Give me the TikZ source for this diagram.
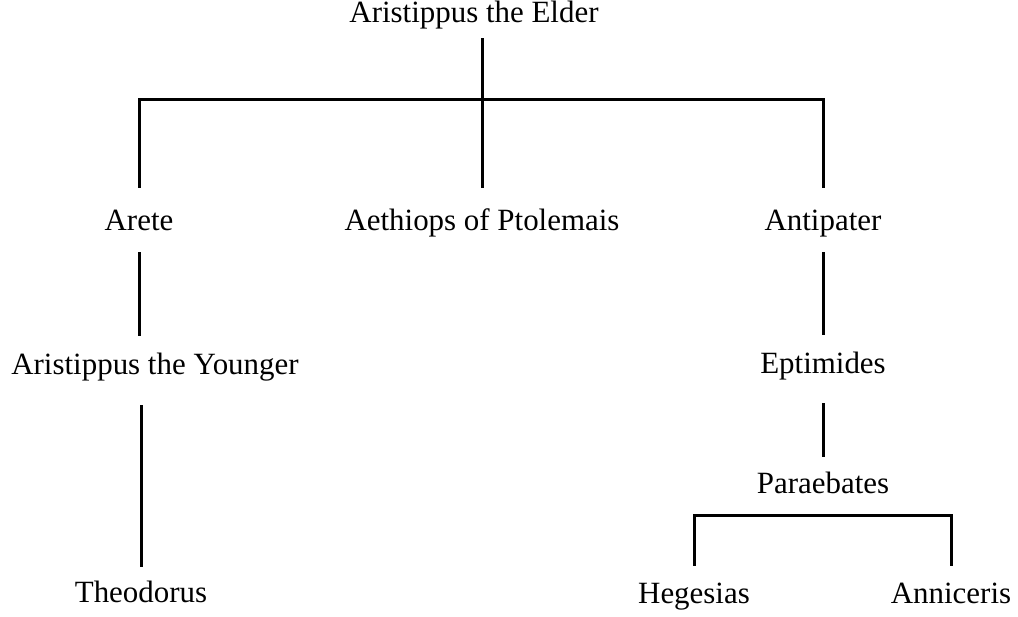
\documentclass[tikz,border=0pt]{standalone}
\usepackage{fontspec}
\setmainfont{Liberation Serif}
\newfontfamily\treefont{Liberation Serif}
\usepackage{tikz}
\usetikzlibrary{positioning,calc}

\begin{document}
\begin{tikzpicture}[x=0.75pt, y=-0.75pt,
    person/.style={inner sep=0pt, anchor=base, font=\treefont\fontsize{23.2}{27}\selectfont, text height=27.75pt, text depth=16.5pt},
    link/.style={line width=2.25pt}]
    \useasboundingbox (0,0) rectangle (1018,617);

    % Top
    \node[person, text depth=11.25pt] (elder) at (474,23) {Aristippus the Elder};

    % Children
    \node[person, text height=31.5pt] (arete) at (139,230) {Arete};
    \node[person, text height=31.5pt] (aethiops) at (482,230) {Aethiops of Ptolemais};
    \node[person, text height=31.5pt] (antipater) at (823,230) {Antipater};

    % Left line
    \node[person, text height=28.5pt, text depth=23.25pt] (younger) at (155,374) {Aristippus the Younger};
    \node[person, text height=26.25pt] (theodorus) at (141,602) {Theodorus};

    % Right line
    \node[person, text height=28.5pt, text depth=22.5pt] (eptimides) at (823,373) {Eptimides};
    \node[person, text height=27pt] (paraebates) at (823,493) {Paraebates};
    \node[person] (hegesias) at (694,603) {Hegesias};
    \node[person] (anniceris) at (951,603) {Anniceris};

    \coordinate (fork) at (482,100);

    % Lines
    \draw[link] (elder.south -| aethiops) -- (aethiops);
    \draw[link] (arete) |- (fork) -| (antipater);
    \draw[link] (arete) -- (arete |- younger.north);
    \draw[link] (younger.south -| theodorus) -- (theodorus);
    \draw[link] (antipater) -- (eptimides);
    \draw[link] (eptimides) -- (paraebates);
    \draw[link] (hegesias) |- (paraebates.south) -| (anniceris);
\end{tikzpicture}
\end{document}
